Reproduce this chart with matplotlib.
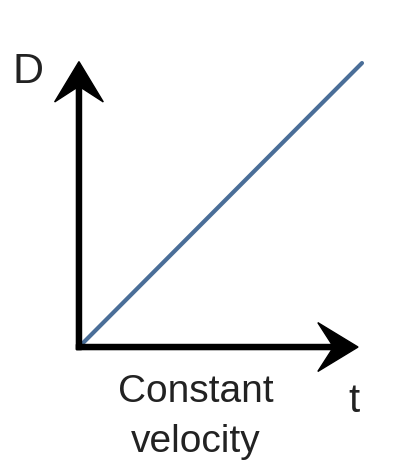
'''
Distance-time sketch for constant velocity
'''

import matplotlib
matplotlib.use("Agg")
import matplotlib.pyplot as plt

# Data
t = [0, 10]
D = [0, 10]
x_label = "t"
y_label = "D"
caption = ["Constant", "velocity"]

plt.rcParams['font.family'] = ['Liberation Sans', 'DejaVu Sans']

fig = plt.figure(figsize=(4.2, 4.7), dpi=100)
ax = fig.add_axes([0, 0, 1, 1])
ax.set_xlim(-2.79, 12.05)
ax.set_ylim(-4.33, 12.22)
ax.axis("off")

# Axes arrows (chevron heads)
shaft = 0.18
head_w = 1.72
head_l = 1.42
ax.arrow(-shaft / 2, 0, 9.86 + shaft / 2, 0, width=shaft, head_width=head_w,
         head_length=head_l, overhang=0.35, length_includes_head=True,
         color="black", zorder=3)
ax.arrow(0, -shaft / 2, 0, 10.05 + shaft / 2, width=shaft, head_width=head_w,
         head_length=head_l, overhang=0.35, length_includes_head=True,
         color="black", zorder=3)

# The line
ax.plot(t, D, color="#4a6e98", lw=3.0, solid_capstyle="round", zorder=2)

# Labels
txt = dict(color="#222222", ha="center", va="baseline")
ax.text(-1.80, 9.30, y_label, fontsize=31, **txt)
ax.text(9.72, -2.29, x_label, fontsize=29, **txt)
ax.text(4.13, -1.94, caption[0], fontsize=28, **txt)
ax.text(4.13, -3.70, caption[1], fontsize=28, **txt)

fig.savefig("out.png", dpi=100)
